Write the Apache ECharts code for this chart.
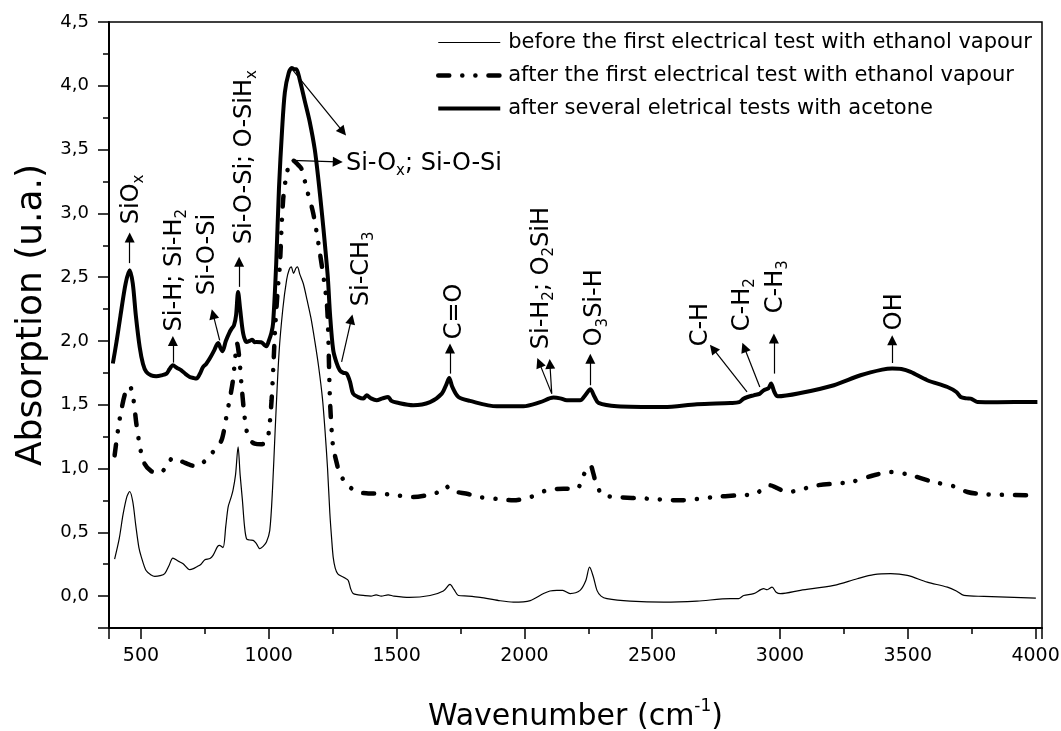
<!DOCTYPE html>
<html>
<head>
<meta charset="utf-8">
<script src="https://cdn.jsdelivr.net/npm/echarts@6/dist/echarts.min.js"></script>
<style>
  html, body { margin: 0; height: 100%; background: #fff; }
  #chart { width: 1061px; height: 731px; }
</style>
</head>
<body>
<div id="chart"></div>
<script>
  const FONT = 'DejaVu Sans';

  const seriesNames = [
    'before the first electrical test with ethanol vapour',
    'after the first electrical test with ethanol vapour',
    'after several eletrical tests with acetone'
  ];

  // [wavenumber, absorption]
  const beforeEthanol = [
    [397,0.29],[415,0.45],[430,0.64],[445,0.78],[456,0.82],[468,0.74],[480,0.55],[492,0.38],[501,0.31],
    [520,0.2],[540,0.165],[554,0.155],[575,0.16],[593,0.176],[610,0.24],[625,0.298],[645,0.275],[665,0.254],
    [691,0.207],[705,0.215],[717,0.228],[735,0.25],[750,0.285],[770,0.295],[782,0.319],[800,0.39],[808,0.398],
    [821,0.38],[832,0.55],[841,0.698],[852,0.77],[860,0.829],[870,0.95],[880,1.169],[888,0.95],[897,0.75],
    [905,0.55],[913,0.45],[925,0.44],[939,0.437],[952,0.41],[965,0.372],[978,0.39],[991,0.424],[1004,0.515],
    [1015,0.85],[1025,1.3],[1040,1.9],[1055,2.25],[1070,2.48],[1080,2.56],[1088,2.58],[1097,2.53],[1106,2.57],
    [1112,2.58],[1122,2.52],[1135,2.45],[1150,2.32],[1165,2.18],[1180,2.0],[1195,1.8],[1210,1.55],[1220,1.3],
    [1230,1.0],[1239,0.65],[1246,0.45],[1252,0.306],[1260,0.22],[1270,0.175],[1291,0.149],[1300,0.14],
    [1311,0.123],[1320,0.06],[1330,0.02],[1350,0.01],[1370,0.005],[1400,0.0],[1420,0.01],[1440,0.0],
    [1467,0.01],[1490,0.0],[1550,-0.01],[1631,0.005],[1683,0.04],[1709,0.092],[1725,0.05],[1742,0.005],
    [1780,0.0],[1827,-0.01],[1900,-0.035],[1957,-0.047],[2023,-0.035],[2075,0.02],[2100,0.04],[2127,0.045],
    [2150,0.045],[2179,0.02],[2218,0.045],[2240,0.12],[2255,0.227],[2270,0.15],[2284,0.045],[2300,0.0],
    [2323,-0.02],[2414,-0.039],[2545,-0.047],[2675,-0.039],[2806,-0.02],[2838,-0.02],[2858,0.005],[2897,0.019],
    [2936,0.058],[2950,0.05],[2969,0.07],[2985,0.03],[3002,0.019],[3080,0.045],[3211,0.084],[3302,0.136],
    [3367,0.168],[3433,0.176],[3498,0.162],[3576,0.11],[3655,0.07],[3690,0.04],[3720,0.005],[3798,-0.002],
    [4001,-0.016]
  ];

  const afterEthanol = [
    [397,1.103],[410,1.3],[423,1.457],[440,1.6],[456,1.645],[470,1.55],[482,1.352],[498,1.15],[514,1.038],
    [540,0.98],[567,0.96],[595,1.0],[610,1.05],[625,1.085],[645,1.065],[665,1.051],[690,1.03],[717,1.017],
    [745,1.05],[769,1.103],[795,1.16],[815,1.221],[825,1.3],[834,1.404],[848,1.55],[860,1.692],[868,1.85],
    [876,1.98],[884,1.88],[893,1.666],[903,1.45],[913,1.3],[928,1.22],[945,1.195],[970,1.19],[991,1.208],
    [1001,1.3],[1011,1.535],[1018,1.8],[1024,2.058],[1035,2.4],[1043,2.58],[1056,3.1],[1070,3.31],[1080,3.38],
    [1089,3.416],[1100,3.41],[1115,3.38],[1128,3.35],[1150,3.18],[1174,3.0],[1200,2.69],[1226,2.32],[1232,2.1],
    [1239,1.561],[1246,1.3],[1252,1.169],[1265,1.05],[1278,0.96],[1300,0.89],[1317,0.855],[1344,0.816],
    [1390,0.805],[1435,0.803],[1500,0.79],[1565,0.776],[1640,0.8],[1680,0.83],[1695,0.86],[1710,0.83],
    [1735,0.816],[1780,0.8],[1827,0.776],[1900,0.76],[1957,0.751],[2023,0.776],[2088,0.829],[2153,0.842],
    [2205,0.842],[2231,0.947],[2258,1.025],[2270,0.96],[2277,0.907],[2295,0.82],[2310,0.79],[2362,0.776],
    [2480,0.764],[2610,0.751],[2740,0.776],[2832,0.79],[2900,0.8],[2962,0.868],[2985,0.85],[3028,0.816],
    [3145,0.868],[3276,0.894],[3367,0.947],[3433,0.973],[3498,0.955],[3602,0.894],[3681,0.86],[3733,0.816],
    [3798,0.798],[4007,0.79]
  ];

  const afterAcetone = [
    [390,1.823],[405,2.0],[420,2.2],[440,2.45],[456,2.555],[468,2.45],[480,2.2],[495,1.953],[508,1.82],
    [521,1.757],[540,1.73],[560,1.723],[580,1.73],[600,1.744],[612,1.78],[625,1.81],[640,1.79],[658,1.77],
    [675,1.74],[691,1.718],[705,1.71],[717,1.705],[730,1.74],[743,1.796],[755,1.82],[769,1.862],[785,1.92],
    [802,1.984],[810,1.95],[819,1.92],[832,2.0],[847,2.07],[856,2.1],[864,2.123],[872,2.2],[880,2.384],
    [888,2.25],[900,2.058],[913,1.992],[925,2.0],[935,2.01],[945,1.99],[952,1.992],[970,1.99],[985,1.965],
    [991,1.958],[1000,2.0],[1010,2.06],[1017,2.14],[1029,2.6],[1040,3.2],[1052,3.65],[1063,3.95],[1078,4.1],
    [1090,4.14],[1100,4.13],[1108,4.13],[1121,4.05],[1141,3.88],[1160,3.72],[1180,3.5],[1195,3.25],[1208,3.0],
    [1220,2.75],[1231,2.5],[1240,2.2],[1252,1.93],[1265,1.83],[1278,1.77],[1292,1.75],[1305,1.744],[1318,1.68],
    [1330,1.587],[1350,1.56],[1370,1.548],[1383,1.574],[1400,1.55],[1422,1.535],[1445,1.55],[1467,1.561],
    [1480,1.53],[1500,1.517],[1565,1.496],[1631,1.52],[1677,1.587],[1695,1.66],[1706,1.71],[1718,1.64],
    [1742,1.561],[1787,1.53],[1892,1.488],[1996,1.488],[2062,1.52],[2114,1.556],[2140,1.55],[2166,1.535],
    [2218,1.535],[2240,1.58],[2258,1.621],[2275,1.56],[2290,1.514],[2362,1.488],[2545,1.482],[2675,1.504],
    [2806,1.514],[2840,1.52],[2858,1.548],[2897,1.574],[2920,1.585],[2936,1.613],[2955,1.63],[2965,1.666],
    [2978,1.6],[2991,1.566],[3080,1.592],[3211,1.653],[3315,1.731],[3400,1.775],[3439,1.784],[3475,1.78],
    [3511,1.757],[3576,1.692],[3655,1.639],[3690,1.6],[3707,1.561],[3730,1.55],[3746,1.548],[3772,1.522],
    [3850,1.52],[4007,1.522]
  ];

  const xMajorTicks = [500, 1000, 1500, 2000, 2500, 3000, 3500, 4000];
  const xMinorTicks = [750, 1250, 1750, 2250, 2750, 3250, 3750];
  const yMajorTicks = [0, 0.5, 1, 1.5, 2, 2.5, 3, 3.5, 4, 4.5];
  const yMinorTicks = [0.25, 0.75, 1.25, 1.75, 2.25, 2.75, 3.25, 3.75, 4.25];

  // band labels: [wavenumber, absorption, text (_ = subscript), rotation]
  const bandLabels = [
    [464, 2.915, 'SiO_x', 90],
    [632, 2.075, 'Si-H; Si-H_2', 90],
    [761, 2.358, 'Si-O-Si', 90],
    [906, 2.758, 'Si-O-Si; O-SiH_x', 90],
    [1302, 3.39, 'Si-O_x; Si-O-Si', 0],
    [1365, 2.272, 'Si-CH_3', 90],
    [1728, 2.013, 'C=O', 90],
    [2069, 1.935, 'Si-H_2; O_2SiH', 90],
    [2277, 1.958, 'O_3Si-H', 90],
    [2692, 1.958, 'C-H', 90],
    [2853, 2.076, 'C-H_2', 90],
    [2982, 2.217, 'C-H_3', 90],
    [3448, 2.084, 'OH', 90]
  ];

  // arrows: [from x, from y, to x, to y]
  const bandArrows = [
    [456, 2.61, 456, 2.81],
    [625, 1.83, 625, 2.0],
    [808, 2.005, 782, 2.21],
    [884, 2.424, 884, 2.62],
    [1095, 4.12, 1290, 3.64],
    [1089, 3.416, 1270, 3.404],
    [1285, 1.836, 1323, 2.17],
    [1709, 1.744, 1709, 1.94],
    [2107, 1.587, 2058, 1.83],
    [2107, 1.587, 2100, 1.82],
    [2258, 1.653, 2258, 1.86],
    [2871, 1.6, 2738, 1.94],
    [2921, 1.639, 2860, 1.95],
    [2976, 1.744, 2976, 2.02],
    [3439, 1.827, 3439, 2.005]
  ];

  const toRich = s => '{t|' + s.replace(/_(\w)/g, '}{s|$1}{t|') + '}';

  const bandRich = {
    t: { fontFamily: FONT, fontSize: 24, lineHeight: 30, color: '#000' },
    s: { fontFamily: FONT, fontSize: 15, lineHeight: 16, verticalAlign: 'bottom', color: '#000' }
  };

  const chart = echarts.init(document.getElementById('chart'), null, { renderer: 'canvas' });

  const tickLabel = { fontFamily: FONT, color: '#000' };
  const tickLine = { color: '#000', width: 1.5 };
  const dashDot = [11, 13, 0.1, 13, 0.1, 13];

  // overlay axis that only draws the minor ticks
  const minorAxis = (values, min, max, pos) => ({
    type: 'value', show: true, min: min, max: max, position: pos,
    axisLine: { show: false, onZero: false },
    axisTick: { show: true, customValues: values.slice(), length: 6, lineStyle: tickLine },
    axisLabel: { show: false },
    splitLine: { show: false }
  });

  const option = {
    animation: false,
    backgroundColor: '#fff',
    grid: {
      left: 109, right: 19, top: 22, bottom: 103, outerBoundsMode: 'none',
      show: true, borderColor: '#000', borderWidth: 1.5
    },
    legend: {
      orient: 'vertical', left: 436, top: 32, padding: 0,
      itemWidth: 62, itemHeight: 14, itemGap: 12,
      data: [
        { name: seriesNames[0], lineStyle: { width: 1.2 } },
        { name: seriesNames[1], lineStyle: { width: 4.5, type: dashDot, cap: 'round' } },
        { name: seriesNames[2], lineStyle: { width: 4 } }
      ],
      itemStyle: { color: 'rgba(0,0,0,0)', borderWidth: 0 },
      textStyle: Object.assign({ fontSize: 21, padding: [0, 0, 0, 3] }, tickLabel)
    },
    xAxis: [
      {
        type: 'value', min: 375, max: 4025, splitNumber: 7, position: 'bottom',
        name: '{t|Wavenumber (cm}{p|-1}{t|)}', nameLocation: 'middle', nameGap: 70,
        nameTextStyle: {
          rich: {
            t: { fontFamily: FONT, fontSize: 30, lineHeight: 38, color: '#000' },
            p: { fontFamily: FONT, fontSize: 17, lineHeight: 17, verticalAlign: 'top', color: '#000' }
          }
        },
        axisLine: { show: true, onZero: false, lineStyle: { color: '#000', width: 2 } },
        axisTick: { show: true, length: 11, lineStyle: tickLine },
        axisLabel: Object.assign({
          customValues: xMajorTicks.slice(), fontSize: 19, margin: 19,
          formatter: v => String(v)
        }, tickLabel),
        splitLine: { show: false }
      },
      minorAxis(xMinorTicks, 375, 4025, 'bottom')
    ],
    yAxis: [
      {
        type: 'value', min: -0.25, max: 4.5, splitNumber: 9, position: 'left',
        name: 'Absorption (u.a.)', nameLocation: 'middle', nameGap: 57,
        nameTextStyle: { fontFamily: FONT, fontSize: 36, color: '#000', padding: [0, 0, 0, 20] },
        axisLine: { show: true, onZero: false, lineStyle: { color: '#000', width: 2 } },
        axisTick: { show: true, length: 11, lineStyle: tickLine },
        axisLabel: Object.assign({
          customValues: yMajorTicks.slice(), fontSize: 18, margin: 20,
          formatter: v => v.toFixed(1).replace('.', ',')
        }, tickLabel),
        splitLine: { show: false }
      },
      minorAxis(yMinorTicks, -0.25, 4.5, 'left')
    ],
    series: [
      {
        name: seriesNames[0], type: 'line', data: beforeEthanol,
        symbol: 'none', smooth: 0.3, color: '#000',
        lineStyle: { color: '#000', width: 1.2 }, z: 2
      },
      {
        name: seriesNames[1], type: 'line', data: afterEthanol,
        symbol: 'none', smooth: 0.3, color: '#000',
        lineStyle: { color: '#000', width: 4.5, type: dashDot, cap: 'round' }, z: 3
      },
      {
        name: seriesNames[2], type: 'line', data: afterAcetone,
        symbol: 'none', smooth: 0.3, color: '#000',
        lineStyle: { color: '#000', width: 4 }, z: 4,
        markLine: {
          silent: true,
          symbol: ['none', 'triangle'],
          symbolSize: 10,
          itemStyle: { color: '#000' },
          lineStyle: { color: '#000', width: 1.2, type: 'solid' },
          label: { show: false },
          data: bandArrows.map(a => [
            { coord: [a[0], a[1]], symbol: 'none' },
            { coord: [a[2], a[3]], symbol: 'triangle', symbolSize: 10 }
          ])
        },
        markPoint: {
          silent: true,
          symbol: 'circle', symbolSize: 1,
          itemStyle: { color: 'rgba(0,0,0,0)' },
          data: bandLabels.map(b => ({
            name: toRich(b[2]),
            coord: [b[0], b[1]],
            label: {
              show: true, position: 'inside', rotate: b[3],
              align: 'left', verticalAlign: 'middle',
              formatter: p => p.name,
              rich: bandRich
            }
          }))
        }
      }
    ]
  };

  chart.setOption(option);
  window.addEventListener('resize', chart.resize);
</script>
</body>
</html>
